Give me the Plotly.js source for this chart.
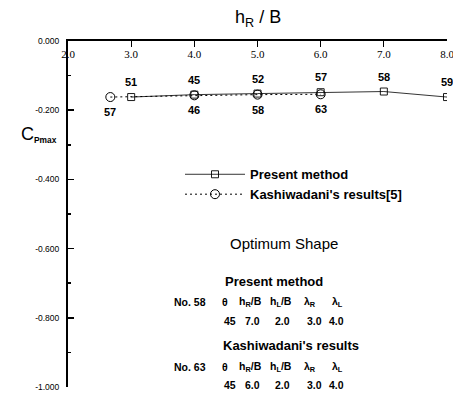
<!DOCTYPE html>
<html><head><meta charset="utf-8">
<script src="https://cdn.plot.ly/plotly-3.0.1.min.js"></script>
<style>body{margin:0;background:#fff}#c{width:453px;height:400px}</style>
</head><body><div id="c"></div>
<script>
// Data
const presentX = [3, 4, 5, 6, 7, 8];
const presentY = [-0.162, -0.155, -0.152, -0.148, -0.146, -0.162];
const presentNo = ['51', '45', '52', '57', '58', '59'];
const kashiX = [2.67, 4, 5, 6];
const kashiY = [-0.162, -0.157, -0.155, -0.154];
const kashiNo = ['57', '46', '58', '63'];
const yTickVals = [0, -0.2, -0.4, -0.6, -0.8, -1.0];
const yTickText = ['0.000', '-0.200', '-0.400', '-0.600', '-0.800', '-1.000'];
const xTickVals = [2, 3, 4, 5, 6, 7, 8];
const xTickText = ['2.0', '3.0', '4.0', '5.0', '6.0', '7.0', '8.0'];
const tableHeaders = ['θ', 'h<sub>R</sub>/B', 'h<sub>L</sub>/B', 'λ<sub>R</sub>', 'λ<sub>L</sub>'];
const presentShape = ['45', '7.0', '2.0', '3.0', '4.0'];
const kashiShape = ['45', '6.0', '2.0', '3.0', '4.0'];

const L = 68, R = 447, T = 40.5, B = 387;
const W = 453, H = 400;
const px = x => (x - L) / (R - L);
const py = y => (B - y) / (B - T);
const SANS = 'Liberation Sans, Arial, sans-serif';

const traces = [
  {x: presentX, y: presentY, name: 'Present method', mode: 'lines+markers',
   line: {color: '#000', width: 0.8},
   marker: {symbol: 'square-open', size: 7, color: '#000', line: {width: 0.9}}},
  {x: kashiX, y: kashiY, name: "Kashiwadani's results[5]", mode: 'lines+markers',
   line: {color: '#000', width: 1, dash: '2px,3px'},
   marker: {symbol: 'circle-open', size: 9, color: '#000', line: {width: 1}}}
];

const ann = [];
presentX.forEach((x, i) => ann.push({x: x, y: presentY[i], xref: 'x', yref: 'y', text: presentNo[i],
  showarrow: false, yshift: 15, font: {family: SANS, size: 11, color: '#000', weight: 'bold'}}));
kashiX.forEach((x, i) => ann.push({x: x, y: kashiY[i], xref: 'x', yref: 'y', text: kashiNo[i],
  showarrow: false, yshift: -15, font: {family: SANS, size: 11, color: '#000', weight: 'bold'}}));

function txt(x, y, t, size, weight, xanchor) {
  ann.push({x: px(x), y: py(y), xref: 'paper', yref: 'paper', text: t, showarrow: false,
    xanchor: xanchor || 'center', yanchor: 'middle',
    font: {family: SANS, size: size, color: '#000', weight: weight || 'bold'}});
}
txt(258, 18, 'h<sub>R</sub> / B', 18, 'normal');
txt(19, 134, 'C<span style="font-size:12px;font-weight:bold"><sub>Pmax</sub></span>', 18, 'normal', 'left');
txt(284, 243, 'Optimum Shape', 15, 'normal');
txt(274, 281, 'Present method', 13);
txt(291, 345, "Kashiwadani's results", 13);
txt(190, 302, 'No. 58', 10.5);
txt(190, 367, 'No. 63', 10.5);
const colX = [225, 250, 281, 310, 337];
const valX = [230, 252, 282, 314, 336];
tableHeaders.forEach((h, i) => { txt(colX[i], 302, h, 10.5); txt(colX[i], 367, h, 10.5); });
presentShape.forEach((v, i) => txt(valX[i], 321, v, 10.5));
kashiShape.forEach((v, i) => txt(valX[i], 385, v, 10.5));

const layout = {
  width: W, height: H,
  margin: {l: L, r: W - R, t: T, b: H - B, pad: 0},
  paper_bgcolor: '#fff', plot_bgcolor: '#fff',
  showlegend: true,
  legend: {x: px(180), y: py(159), xanchor: 'left', yanchor: 'top', bgcolor: 'rgba(0,0,0,0)',
    font: {family: SANS, size: 13, color: '#000', weight: 'bold'}, itemwidth: 60, tracegroupgap: 0},
  xaxis: {range: [2, 8], side: 'top', tickmode: 'array', tickvals: xTickVals, ticktext: xTickText,
    ticks: 'inside', ticklen: 6, tickcolor: '#000', ticklabelposition: 'inside', ticklabeloverflow: 'allow',
    ticklabelstandoff: 3,
    showline: true, linecolor: '#000', linewidth: 2, showgrid: false, zeroline: false,
    tickfont: {family: 'Liberation Serif, Times New Roman, serif', size: 11, color: '#000'}},
  yaxis: {range: [-1, 0], tickmode: 'array', tickvals: yTickVals, ticktext: yTickText,
    ticks: 'inside', ticklen: 6, tickcolor: '#000', tickwidth: 1.5, ticklabeloverflow: 'allow',
    ticklabelstandoff: 5,
    minor: {ticks: 'inside', ticklen: 3, tickcolor: '#000', dtick: 0.1, tick0: 0},
    showline: true, linecolor: '#000', linewidth: 2, showgrid: false, zeroline: false,
    tickfont: {family: SANS, size: 8.5, color: '#000'}},
  annotations: ann
};
Plotly.newPlot('c', traces, layout, {displayModeBar: false, staticPlot: true});
</script></body></html>
